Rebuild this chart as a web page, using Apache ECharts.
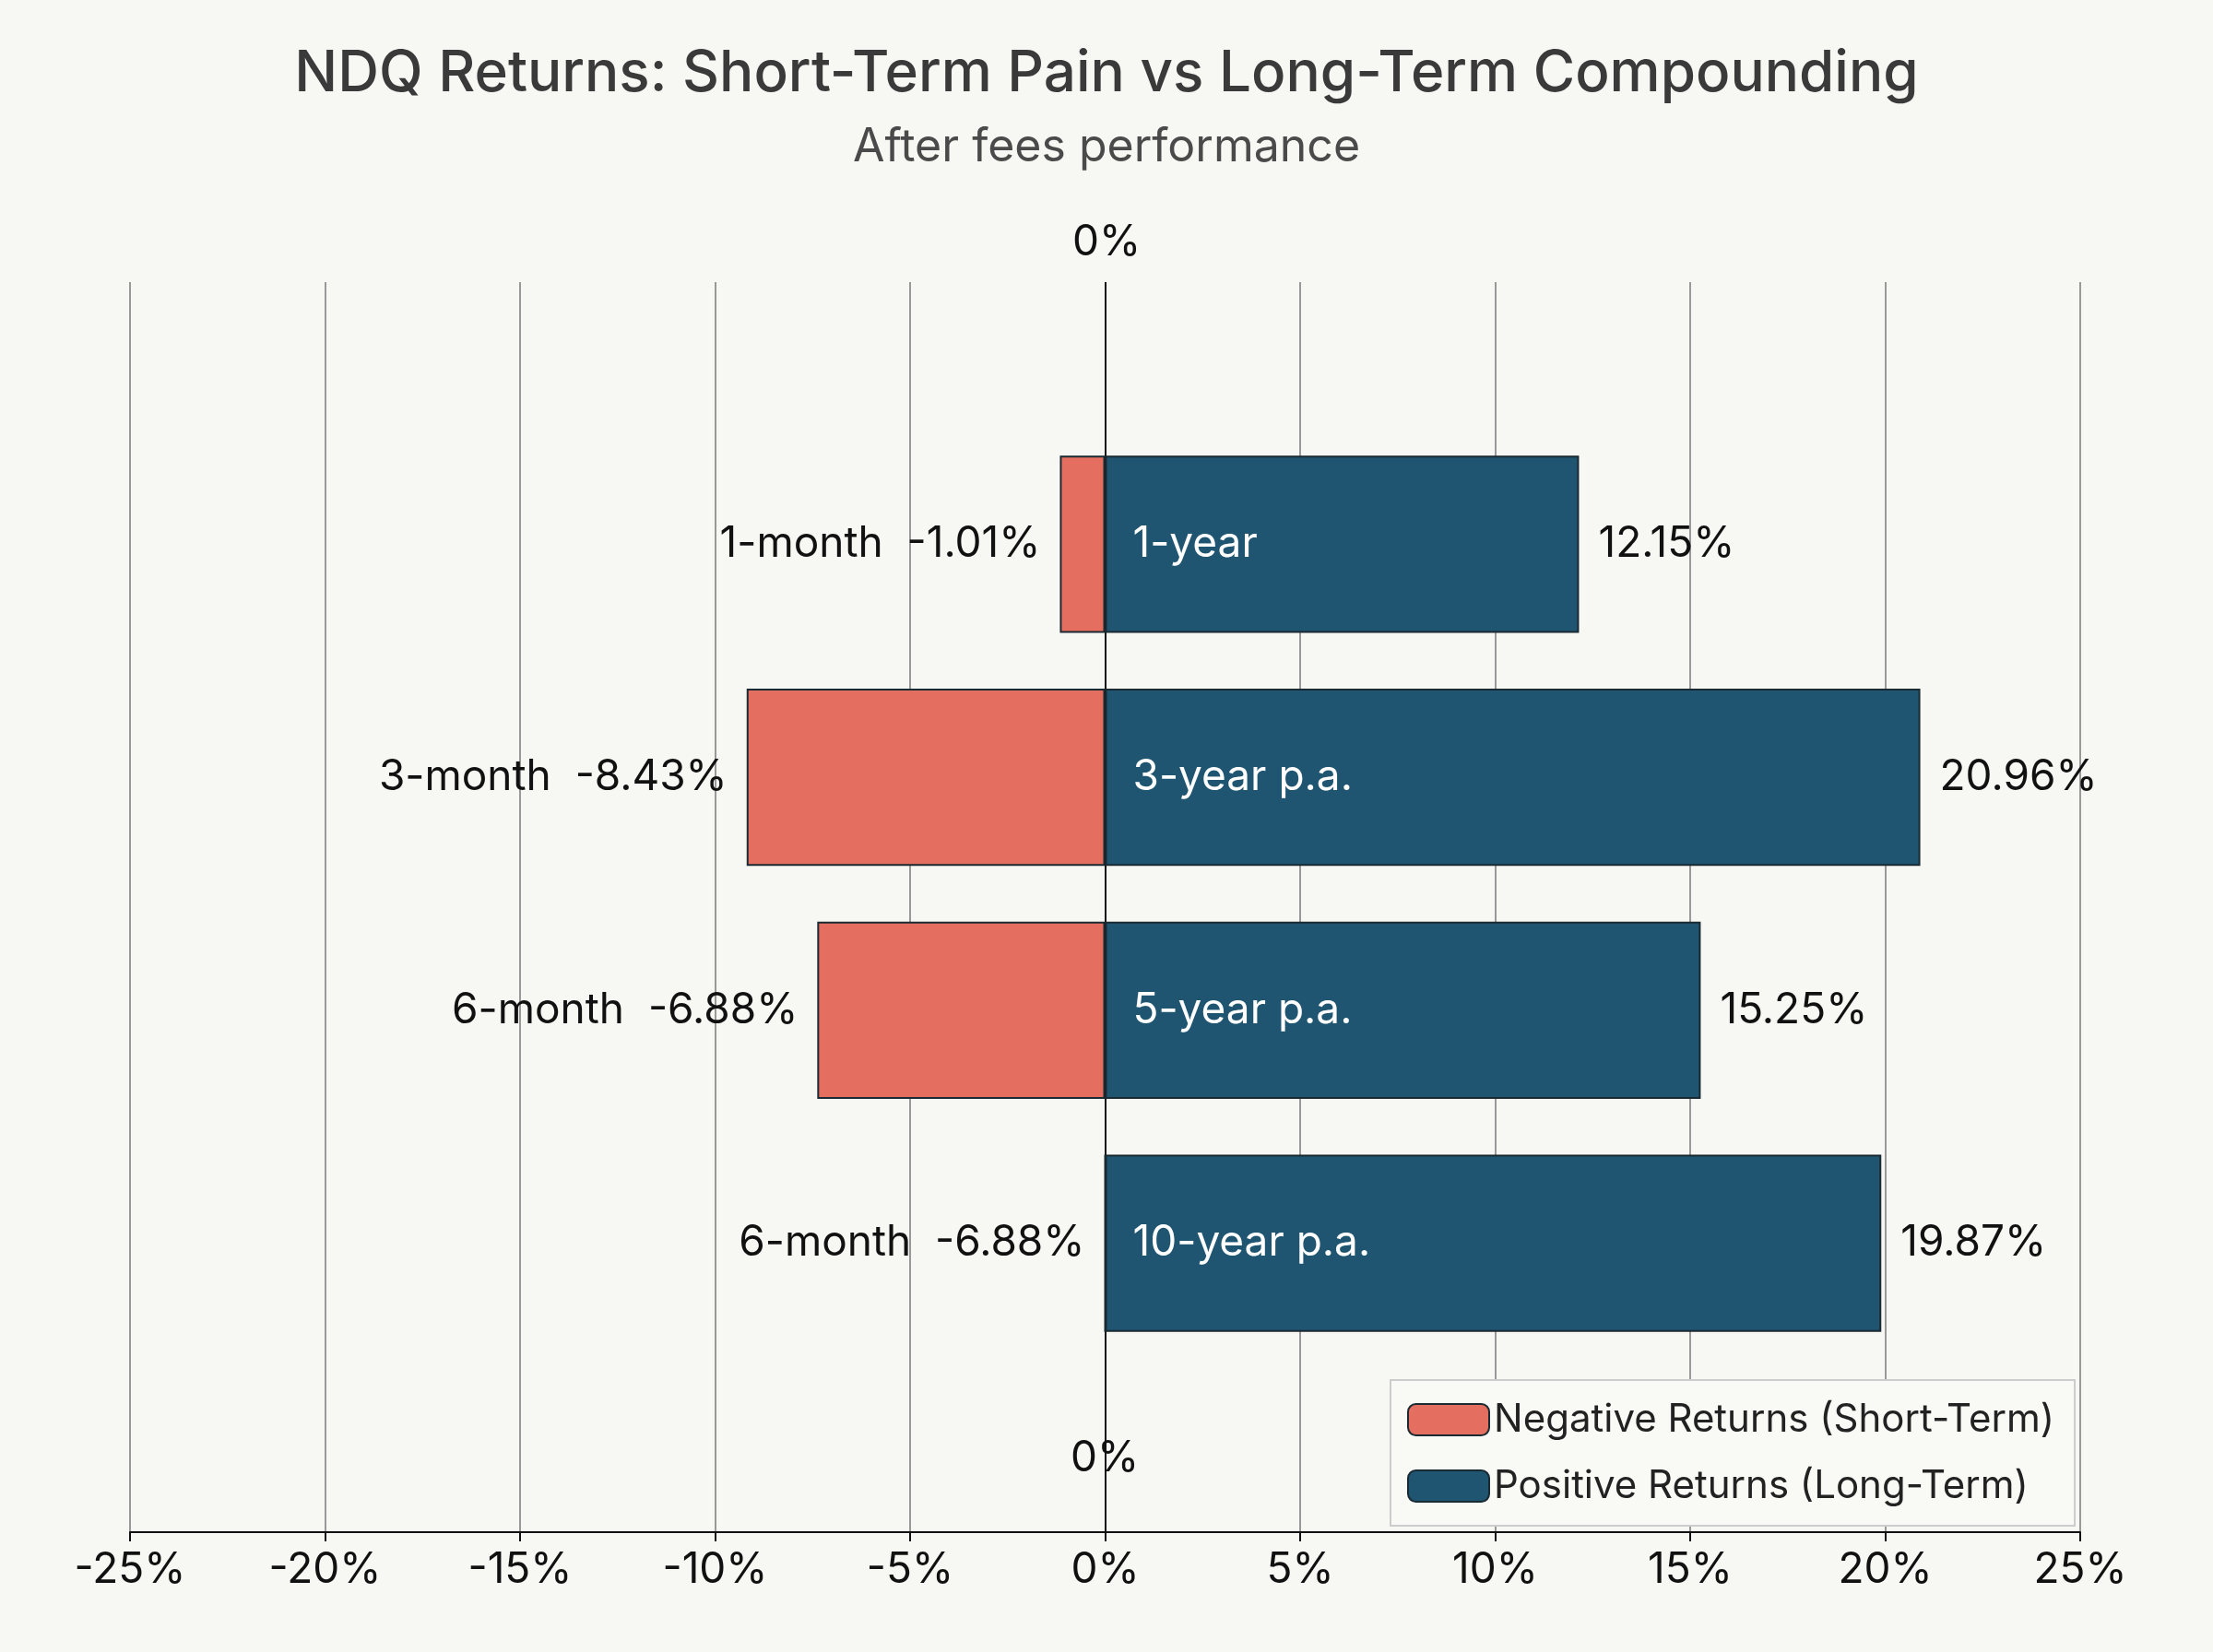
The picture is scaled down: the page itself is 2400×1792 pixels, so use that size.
<!DOCTYPE html>
<html><head><meta charset="utf-8">
<script src="https://cdn.jsdelivr.net/npm/echarts@6/dist/echarts.min.js"></script>
<style>html,body{margin:0;padding:0;background:#f7f7f3}#c{width:2400px;height:1792px}</style>
</head><body><div id="c"></div>
<script>
const rows = ['r1','r2','r3','r4'];
const negValues = [-1.16, -9.19, -7.38, 0];
const negLabels = ['1-month  -1.01%', '3-month  -8.43%', '6-month  -6.88%', '6-month  -6.88%'];
const posValues = [12.15, 20.9, 15.27, 19.9];
const posNames = ['1-year', '3-year p.a.', '5-year p.a.', '10-year p.a.'];
const posLabels = ['12.15%', '20.96%', '15.25%', '19.87%'];
const xTicks = [-25,-20,-15,-10,-5,0,5,10,15,20,25];

const font = 'Inter, "Noto Sans", sans-serif';
const lineColors = xTicks.map(v => v === 0 ? '#111' : '#999');
const chart = echarts.init(document.getElementById('c'));
chart.setOption({
  backgroundColor: '#f7f7f3',
  textStyle: {fontFamily: font},
  title: [
    {text: 'NDQ Returns: Short-Term Pain vs Long-Term Compounding', left: 'center', top: 44,
     textStyle: {fontSize: 62, fontWeight: 500, color: '#3a3a3a', fontFamily: font}},
    {text: 'After fees performance', left: 'center', top: 130,
     textStyle: {fontSize: 50, fontWeight: 400, color: '#4a4a4a', fontFamily: font}}
  ],
  legend: {
    right: 150, top: 1497, orient: 'vertical', itemWidth: 88, itemHeight: 34, itemGap: 30,
    padding: [22, 22, 22, 18], borderColor: '#ccc', borderWidth: 2, backgroundColor: '#f9f9f6',
    textStyle: {fontSize: 42, color: '#222', fontFamily: font},
    data: ['Negative Returns (Short-Term)', 'Positive Returns (Long-Term)']
  },
  grid: [
    {left: 141, right: 144, top: 306, bottom: 130},
    {left: 141, right: 144, top: 464, bottom: 317}
  ],
  xAxis: [
    {gridIndex: 0, type: 'value', min: -25, max: 25, interval: 5,
     axisLine: {show: true, onZero: false, lineStyle: {color: '#111', width: 2}},
     axisTick: {show: true, length: 10, lineStyle: {color: '#111', width: 2}},
     axisLabel: {fontSize: 46, color: '#111', margin: 18, formatter: v => v + '%'},
     splitLine: {show: true, lineStyle: {color: lineColors, width: 2}}},
    {gridIndex: 1, type: 'value', min: -25, max: 25, interval: 5, show: false, splitLine: {show: false}}
  ],
  yAxis: [
    {gridIndex: 0, type: 'value', show: false},
    {gridIndex: 1, type: 'category', data: rows, inverse: true, show: false}
  ],
  graphic: [
    {type: 'text', left: 'center', top: 240, style: {text: '0%', fontSize: 46, fill: '#111', fontFamily: font}},
    {type: 'text', x: 1198, y: 1582, style: {text: '0%', fontSize: 46, fill: '#111', fontFamily: font,
      align: 'center', verticalAlign: 'middle', backgroundColor: '#f7f7f3', padding: [4, 6]}}
  ],
  series: [
    {name: 'Negative Returns (Short-Term)', type: 'bar', xAxisIndex: 1, yAxisIndex: 1,
     data: negValues, barWidth: '76%', barGap: '-100%',
     itemStyle: {color: '#e46e5f', borderColor: '#1a2a33', borderWidth: 2},
     label: {show: true, position: 'left', distance: 21, fontSize: 46, color: '#111',
             formatter: p => negLabels[p.dataIndex]}},
    {name: 'Positive Returns (Long-Term)', type: 'bar', xAxisIndex: 1, yAxisIndex: 1,
     data: posValues, barWidth: '76%', barGap: '-100%',
     itemStyle: {color: '#1f5570', borderColor: '#1a2a33', borderWidth: 2},
     label: {show: true, position: 'insideLeft', distance: 30, fontSize: 46, color: '#fff',
             formatter: p => posNames[p.dataIndex]}},
    {name: 'posval', type: 'bar', xAxisIndex: 1, yAxisIndex: 1, silent: true,
     data: posValues, barWidth: '76%', barGap: '-100%',
     itemStyle: {color: 'rgba(0,0,0,0)'},
     label: {show: true, position: 'right', distance: 21, fontSize: 46, color: '#111',
             formatter: p => posLabels[p.dataIndex]}}
  ]
});
</script></body></html>
